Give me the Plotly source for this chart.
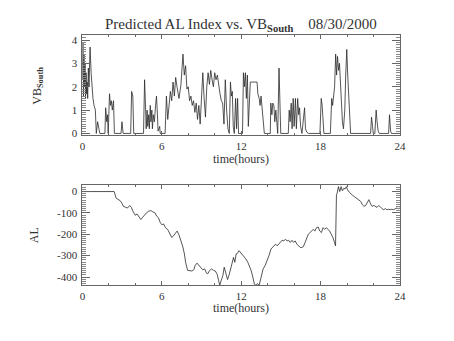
import plotly.graph_objects as go

# Southward IMF component (VB_South) over the day, hours UT
vb_hours = [
    0.0, 0.04, 0.08, 0.12, 0.16, 0.2, 0.24, 0.28, 0.32, 0.36, 0.4, 0.45, 0.5, 0.58, 0.66, 0.74,
    0.8, 0.88, 0.98, 1.05, 1.15, 1.25, 1.32, 1.7, 1.76, 1.84, 1.9, 1.95, 2.05, 2.12, 2.19, 2.26,
    2.35, 2.42, 2.92, 2.99, 3.08, 3.65, 3.72, 3.81, 3.88, 4.62, 4.7, 4.78, 4.82, 4.89, 4.94, 5.01,
    5.06, 5.13, 5.18, 5.25, 5.29, 5.36, 5.44, 5.53, 5.6, 5.67, 5.72, 5.84, 5.88, 6.25, 6.35, 6.45,
    6.55, 6.65, 6.75, 6.85, 6.95, 7.05, 7.15, 7.3, 7.45, 7.6, 7.7, 7.8, 7.9, 8.0, 8.1, 8.2,
    8.3, 8.4, 8.5, 8.6, 8.7, 8.8, 8.9, 9.0, 9.1, 9.2, 9.3, 9.4, 9.5, 9.6, 9.7, 9.8,
    9.9, 10.0, 10.1, 10.2, 10.3, 10.4, 10.5, 10.6, 10.7, 10.8, 10.9, 11.0, 11.1, 11.19, 11.26, 11.33,
    11.4, 11.48, 11.58, 11.65, 11.73, 11.8, 12.1, 12.17, 12.24, 12.32, 12.39, 12.47, 12.54, 12.62, 12.69, 13.2,
    13.26, 13.36, 13.43, 13.5, 13.58, 13.65, 13.75, 14.2, 14.24, 14.32, 14.39, 14.47, 14.54, 14.62, 14.69, 14.76,
    14.86, 14.94, 14.99, 15.56, 15.63, 15.7, 15.78, 15.85, 15.93, 16.0, 16.1, 16.17, 16.27, 16.35, 16.41, 16.49,
    16.59, 16.79, 16.86, 16.96, 17.09, 17.95, 18.05, 18.12, 18.2, 18.25, 18.74, 18.84, 18.91, 18.99, 19.06, 19.14,
    19.21, 19.28, 19.36, 19.43, 19.51, 19.58, 19.65, 19.73, 19.83, 19.9, 19.98, 20.05, 20.12, 20.2, 20.27, 21.78,
    21.85, 21.93, 21.98, 22.1, 22.2, 22.27, 22.35, 22.44, 23.14, 23.21, 23.29, 23.36, 24.0,
]
vb_south = [
    2.3, 3.9, 1.6, 3.4, 2.0, 3.0, 1.5, 2.6, 1.7, 2.2, 1.5, 2.8, 2.0, 3.7, 2.6, 1.6,
    1.5, 1.2, 1.0, 0.0, 0.5, 0.2, 0.0, 0.0, 1.1, 0.5, 0.8, 0.0, 1.7, 1.2, 1.4, 1.0,
    1.4, 0.0, 0.0, 0.5, 0.0, 0.0, 1.8, 1.6, 0.0, 0.0, 2.3, 1.0, 0.2, 1.0, 0.3, 0.8,
    0.2, 1.2, 0.5, 1.0, 0.2, 0.8, 0.5, 1.2, 1.6, 0.8, 0.1, 0.3, 0.0, 0.0, 1.6, 0.6,
    1.2, 1.8, 1.4, 2.2, 1.6, 2.4, 2.0, 1.5, 2.1, 3.4, 2.5, 2.9, 1.9, 2.0, 1.4, 1.6,
    1.2, 1.4, 0.9, 1.3, 0.6, 1.2, 0.4, 1.4, 2.6, 1.5, 0.7, 2.0, 2.6, 2.1, 2.7, 2.3,
    2.0, 2.6, 2.3, 2.5, 2.0, 1.7, 1.4, 1.3, 0.4, 2.3, 1.0, 0.2, 0.0, 2.2, 1.6, 1.8,
    0.3, 0.0, 1.5, 0.2, 1.5, 0.0, 0.0, 2.6, 2.0, 2.6, 1.5, 2.5, 0.3, 1.6, 2.2, 2.2,
    1.7, 1.5, 1.2, 1.6, 1.0, 0.5, 0.0, 0.0, 1.3, 0.8, 1.3, 1.2, 0.5, 1.0, 0.2, 0.0,
    2.8, 0.5, 0.0, 0.0, 1.0, 0.5, 1.3, 0.2, 1.5, 0.3, 1.5, 0.2, 1.5, 0.8, 1.1, 0.3,
    0.0, 1.1, 0.2, 0.05, 0.0, 0.0, 1.5, 1.2, 0.5, 0.0, 0.0, 1.5, 1.2, 1.7, 2.0, 3.4,
    2.5, 3.3, 2.7, 3.0, 2.0, 1.0, 0.5, 0.2, 1.0, 2.5, 3.6, 2.5, 1.5, 0.5, 0.0, 0.0,
    0.7, 0.3, 0.0, 0.0, 1.0, 0.5, 0.1, 0.0, 0.0, 0.8, 0.1, 0.0, 0.0,
]

# Predicted AL index (nT)
al_hours = [
    0.0, 2.4, 2.55, 2.7, 2.86, 2.98, 3.1, 3.27, 3.41, 3.58, 3.7, 3.82, 3.99, 4.13, 4.3, 4.42,
    4.56, 4.7, 4.84, 5.01, 5.18, 5.32, 5.49, 5.61, 5.75, 5.89, 6.04, 6.13, 6.28, 6.44, 6.61, 6.75,
    6.87, 6.99, 7.16, 7.28, 7.42, 7.57, 7.71, 7.8, 7.95, 8.11, 8.28, 8.42, 8.52, 8.66, 8.81, 8.95,
    9.09, 9.24, 9.38, 9.47, 9.62, 9.76, 9.9, 10.05, 10.19, 10.29, 10.38, 10.5, 10.62, 10.72, 10.85, 10.97,
    11.08, 11.2, 11.3, 11.42, 11.52, 11.62, 11.72, 11.84, 11.95, 12.07, 12.2, 12.35, 12.5, 12.62, 12.75, 12.88,
    13.0, 13.1, 13.2, 13.36, 13.46, 13.56, 13.66, 13.81, 13.96, 14.1, 14.25, 14.35, 14.48, 14.6, 14.72, 14.85,
    14.97, 15.09, 15.22, 15.34, 15.47, 15.59, 15.71, 15.84, 15.96, 16.08, 16.21, 16.33, 16.46, 16.58, 16.7, 16.83,
    16.95, 17.07, 17.2, 17.32, 17.45, 17.57, 17.69, 17.82, 17.94, 18.06, 18.19, 18.31, 18.44, 18.56, 18.68, 18.81,
    18.93, 19.05, 19.13, 19.2, 19.25, 19.35, 19.45, 19.55, 19.65, 19.75, 19.85, 19.95, 20.04, 20.17, 20.29, 20.42,
    20.54, 20.66, 20.79, 20.91, 21.03, 21.16, 21.28, 21.41, 21.53, 21.65, 21.78, 21.9, 22.02, 22.15, 22.27, 22.4,
    22.52, 22.64, 22.77, 22.89, 23.01, 23.14, 23.26, 23.39, 23.51, 23.64, 23.76, 23.89, 24.0,
]
al_index = [
    0, 0, -31, -38, -43, -54, -69, -74, -77, -65, -74, -92, -111, -105, -120, -131,
    -120, -108, -100, -92, -89, -95, -100, -115, -123, -146, -157, -151, -169, -177, -197, -215,
    -208, -200, -185, -200, -223, -254, -292, -331, -369, -369, -372, -366, -346, -335, -346, -354,
    -366, -362, -382, -385, -369, -362, -369, -372, -388, -415, -438, -415, -392, -354, -385, -412,
    -392, -354, -338, -308, -331, -292, -289, -277, -285, -292, -300, -315, -331, -346, -369, -400,
    -434, -438, -431, -438, -415, -385, -362, -346, -323, -300, -269, -262, -254, -246, -254, -243,
    -234, -228, -231, -223, -231, -228, -238, -228, -238, -231, -246, -254, -262, -262, -258, -238,
    -215, -200, -192, -185, -177, -185, -169, -166, -185, -192, -169, -177, -169, -177, -185, -200,
    -215, -238, -254, -15, -8, 23, 0, 23, 3, 15, 12, 23, 8, -3, -12, -18,
    -23, -28, -34, -38, -46, -62, -69, -65, -54, -38, -58, -69, -65, -69, -74, -65,
    -74, -80, -85, -80, -85, -83, -85, -83, -85, -80, -77, -80, -77,
]

hour_ticks = [0, 6, 12, 18, 24]
vb_ticks = [0, 1, 2, 3, 4]
al_ticks = [0, -100, -200, -300, -400]

W, H = 454, 341
SERIF = "Liberation Serif"
INK = "#333333"
FRAME = "#666666"
LINE = "#2a2a2a"


def px(x):
    return x / W


def py(y):
    return 1 - y / H


fig = go.Figure()
fig.add_trace(go.Scatter(x=vb_hours, y=vb_south, mode="lines",
                         line=dict(color=LINE, width=0.8), xaxis="x", yaxis="y"))
fig.add_trace(go.Scatter(x=al_hours, y=al_index, mode="lines",
                         line=dict(color=LINE, width=0.8), xaxis="x2", yaxis="y2"))

frame = dict(showgrid=False, zeroline=False, showline=True, linecolor=FRAME, linewidth=1,
             mirror="ticks", ticks="inside", tickcolor=FRAME, tickwidth=1,
             tickfont=dict(family=SERIF, size=11, color=INK))

xaxis_style = dict(frame, range=[0, 24], tickmode="array", tickvals=hour_ticks,
                   ticktext=[str(v) for v in hour_ticks], ticklen=4, ticklabelstandoff=1,
                   minor=dict(ticks="inside", dtick=2, ticklen=2, tickcolor=FRAME))

fig.update_layout(
    width=W, height=H, margin=dict(l=0, r=0, t=0, b=0),
    paper_bgcolor="white", plot_bgcolor="white", showlegend=False,
    xaxis=dict(xaxis_style, domain=[px(81), px(405)], anchor="y"),
    yaxis=dict(frame, domain=[py(136), py(35)], anchor="x", range=[-0.05, 4.2],
               tickmode="array", tickvals=vb_ticks, ticktext=[str(v) for v in vb_ticks],
               ticklen=8, ticklabelstandoff=2,
               minor=dict(ticks="inside", dtick=0.1, ticklen=4, tickcolor="#888888")),
    xaxis2=dict(xaxis_style, domain=[px(81), px(405)], anchor="y2"),
    yaxis2=dict(frame, domain=[py(289), py(187)], anchor="x2", range=[-437, 32],
                tickmode="array", tickvals=al_ticks, ticktext=[str(v) for v in al_ticks],
                ticklen=8, ticklabelstandoff=2,
                minor=dict(ticks="inside", dtick=10, ticklen=4, tickcolor="#888888")),
)

font_title = dict(family=SERIF, size=15, color=INK)
font_label = dict(family=SERIF, size=12, color=INK)
annotations = [
    dict(text="Predicted AL Index vs. VB<sub><b>South</b></sub>\u00a0\u00a0\u00a0\u00a008/30/2000",
         x=px(243), y=py(24), font=font_title),
    dict(text="time(hours)", x=px(243), y=py(161), font=font_label),
    dict(text="time(hours)", x=px(243), y=py(313), font=font_label),
    dict(text="VB<sub><b>South</b></sub>", x=px(36), y=py(86), textangle=-90, font=font_label),
    dict(text="AL", x=px(31), y=py(238), textangle=-90, font=font_label),
]
for a in annotations:
    a.update(xref="paper", yref="paper", showarrow=False, xanchor="center", yanchor="middle")
fig.update_layout(annotations=annotations)

fig.write_html("out.html")
